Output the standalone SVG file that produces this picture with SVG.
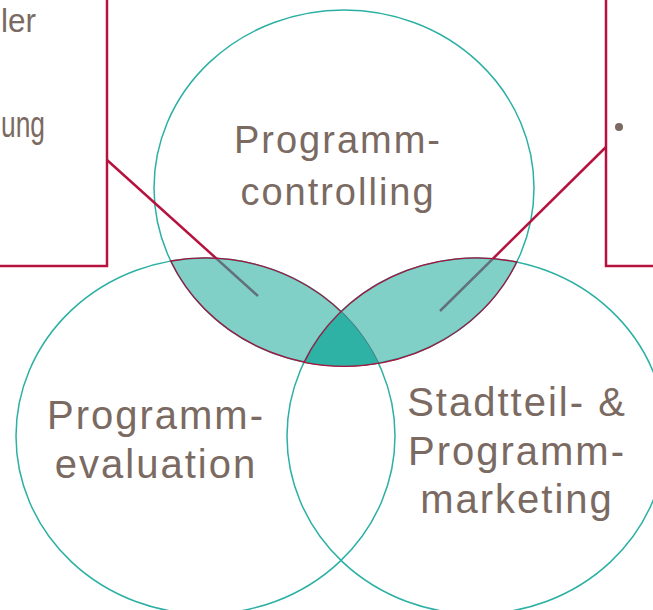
<svg xmlns="http://www.w3.org/2000/svg" width="653" height="610" viewBox="0 0 653 610">
<style>
.circ{fill:none;stroke:#2BB0A3;stroke-width:1.5}
.box{fill:none;stroke:#B5123E;stroke-width:2.5}
.call{fill:none;stroke:#B5123E;stroke-width:2.5}
.lens{fill:#2BB0A3;fill-opacity:0.6;stroke:#A8143E;stroke-width:1.3}
.lbl{font-family:"Liberation Sans",Arial,sans-serif;font-size:40px;fill:#7A6A62;letter-spacing:2px;text-anchor:middle}
.side{font-family:"Liberation Sans",Arial,sans-serif;font-size:36px;fill:#7A6A62}
</style>
<rect width="653" height="610" fill="#ffffff"/>
<g id="box-left">
<path class="box" d="M107,-3 V266 H-3"/>
<text class="side" x="1" y="32" textLength="35" lengthAdjust="spacingAndGlyphs" style="font-size:34px">ler</text>
<text class="side" x="1" y="137" textLength="44" lengthAdjust="spacingAndGlyphs">ung</text>
</g>
<g id="box-right">
<path class="box" d="M606,-3 V266 H656"/>
<circle cx="619" cy="127" r="4" fill="#7A6A62"/>
</g>
<g id="circle-controlling">
<ellipse class="circ" cx="344" cy="188" rx="190" ry="178"/>
</g>
<g id="circle-evaluation">
<ellipse class="circ" cx="205.5" cy="436" rx="189.5" ry="178"/>
</g>
<g id="circle-marketing">
<ellipse class="circ" cx="476.5" cy="436" rx="189.5" ry="178"/>
</g>
<g id="connectors">
<line class="call" x1="107" y1="160" x2="258" y2="296"/>
<line class="call" x1="606" y1="147" x2="440" y2="311"/>
</g>
<g id="overlaps">
<path class="lens" d="M170.7,261 A189.5,178 0 0 1 378.4,363 A190,178 0 0 1 170.7,261 Z"/>
<path d="M341,311.6 A189.5,178 0 0 0 304.1,362.4 A190,178 0 0 0 378.4,363 A189.5,178 0 0 0 341,311.6 Z" fill="#2BB0A3" fill-opacity="0.9"/>
<path class="lens" d="M304.1,362.4 A189.5,178 0 0 1 516.8,262 A190,178 0 0 1 304.1,362.4 Z"/>
</g>
<g id="label-controlling">
<text class="lbl" x="338" y="153" style="font-size:38px">Programm-</text>
<text class="lbl" x="338" y="205" style="font-size:38px">controlling</text>
</g>
<g id="label-evaluation">
<text class="lbl" x="156" y="429">Programm-</text>
<text class="lbl" x="156" y="478">evaluation</text>
</g>
<g id="label-marketing">
<text class="lbl" x="517" y="416">Stadtteil- &amp;</text>
<text class="lbl" x="517" y="465">Programm-</text>
<text class="lbl" x="517" y="513">marketing</text>
</g>
</svg>
